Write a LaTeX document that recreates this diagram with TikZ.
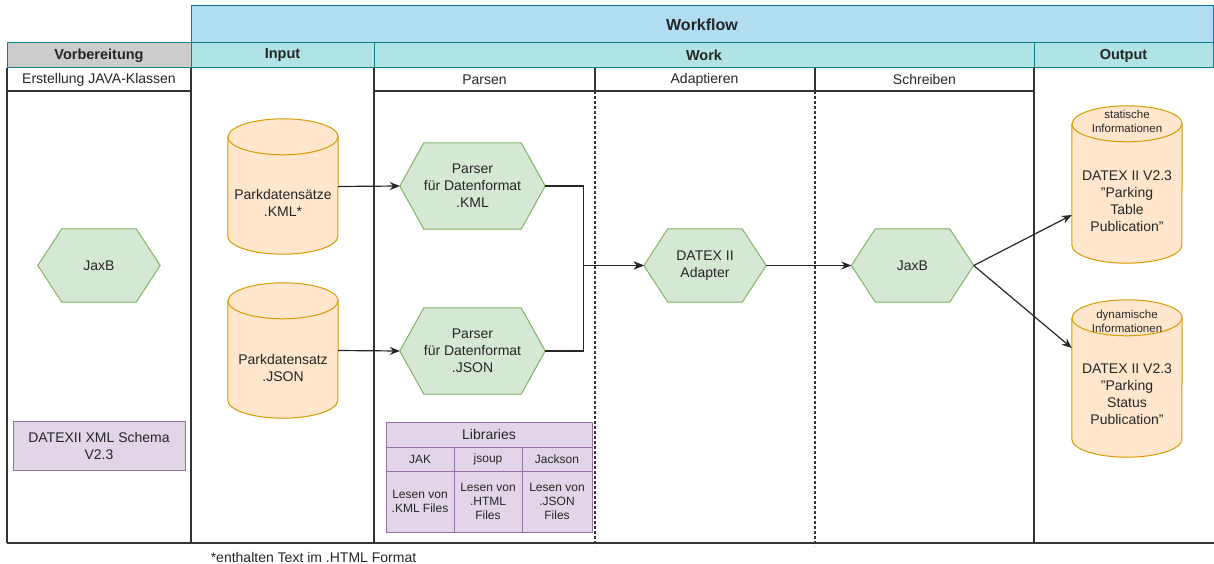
\documentclass[tikz,border=0pt]{standalone}
\usepackage{fontspec}
\setmainfont{Liberation Sans}
\usetikzlibrary{arrows.meta,calc,backgrounds}
\definecolor{hexf}{HTML}{D5E8D4}
\definecolor{hexd}{HTML}{82B366}
\definecolor{cylf}{HTML}{FFE6CC}
\definecolor{cyld}{HTML}{D79B00}
\definecolor{purf}{HTML}{E1D5E7}
\definecolor{purd}{HTML}{9673A6}
\definecolor{wff}{HTML}{B1DDF0}
\definecolor{wfd}{HTML}{10739E}
\definecolor{tealf}{HTML}{B0E3E6}
\definecolor{teald}{HTML}{0E8088}
\definecolor{grayf}{HTML}{CCCCCC}
\definecolor{textc}{HTML}{262626}
\definecolor{lanec}{HTML}{333333}
\newcommand\hexbg[1]{%
  \begin{scope}[on background layer]
  \filldraw[fill=hexf,draw=hexd,line width=1pt] ([xshift=24pt]#1.north west) -- ([xshift=-24pt]#1.north east) -- (#1.east) -- ([xshift=-24pt]#1.south east) -- ([xshift=24pt]#1.south west) -- (#1.west) -- cycle;
  \end{scope}}
\newcommand\cylbg[1]{%
  \begin{scope}[on background layer]
  \filldraw[fill=cylf,draw=cyld,line width=1pt] ([yshift=-18pt]#1.north west) -- ([yshift=18pt]#1.south west) arc[start angle=180,end angle=360,x radius=55pt,y radius=18pt] -- ([yshift=-18pt]#1.north east) arc[start angle=0,end angle=180,x radius=55pt,y radius=18pt] -- cycle;
  \draw[cyld,line width=1pt] ([yshift=-18pt]#1.north west) arc[start angle=180,end angle=360,x radius=55pt,y radius=18pt];
  \end{scope}}
\newcommand\qq{\symbol{34}}
\tikzset{
  txt/.style={font=\fontsize{14}{17}\selectfont, text=textc, align=center, inner sep=0pt},
  small/.style={font=\fontsize{12}{14.3}\selectfont, text=textc, align=center, inner sep=0pt},
  tiny/.style={font=\fontsize{11.5}{14.5}\selectfont, text=textc, align=center, inner sep=0pt},
  boxn/.style={shape=rectangle, inner sep=0pt, align=center},
  hexn/.style={boxn, txt},
  hdrwf/.style={boxn, draw=wfd, fill=wff, line width=1pt, font=\fontsize{16}{19}\selectfont\bfseries, text=textc},
  hdr/.style={boxn, draw=teald, fill=tealf, line width=1pt, font=\fontsize{14.5}{17}\selectfont\bfseries, text=textc},
  hdrg/.style={hdr, fill=grayf},
  purbox/.style={boxn, draw=purd, fill=purf, line width=1pt},
  lane/.style={draw=lanec, line width=1.3pt},
  dlane/.style={draw=lanec, line width=1.3pt, dash pattern=on 3pt off 2pt},
  arr/.style={draw=black!85, line width=1.2pt, -{Stealth[length=10pt,width=8pt]}},
}
\begin{document}
\begin{tikzpicture}[x=1pt,y=-1pt]
\useasboundingbox (0,0) rectangle (1214,564);
\begin{scope}[on background layer]
\fill[white] (0,0) rectangle (1214,564);
\end{scope}
% headers
\node[hdrwf, minimum width=1022pt, minimum height=37pt] (wf) at (702,24.5) {Workflow};
\node[hdrg, minimum width=184pt, minimum height=25pt] (vorb) at (99,55.5) {Vorbereitung};
\node[hdr, minimum width=183pt, minimum height=25pt] (inp) at (282.5,55.5) {Input};
\node[hdr, minimum width=660pt, minimum height=25pt] (work) at (704,55.5) {Work};
\node[hdr, minimum width=179pt, minimum height=25pt] (outp) at (1123.5,55.5) {Output};
% sub headers
\node[txt] (erst) at (99,79.5) {Erstellung JAVA-Klassen};
\node[txt] (pars) at (484.5,79.5) {Parsen};
\node[txt] (adap) at (704.5,79.5) {Adaptieren};
\node[txt] (schr) at (924.5,79.5) {Schreiben};
% lanes
\coordinate (l0t) at (7,68);   \coordinate (l0b) at (7,543);
\coordinate (l1t) at (191,68); \coordinate (l1b) at (191,543);
\coordinate (l2t) at (374,68); \coordinate (l2b) at (374,543);
\coordinate (l3t) at (1034,68);\coordinate (l3b) at (1034,543);
\coordinate (d1t) at (595,68); \coordinate (d1m) at (595,91); \coordinate (d1b) at (595,546);
\coordinate (d2t) at (815,68); \coordinate (d2m) at (815,91); \coordinate (d2b) at (815,546);
\coordinate (bl) at (7,543); \coordinate (br) at (1214,543);
\coordinate (h1a) at (7,91); \coordinate (h1b) at (191,91);
\coordinate (h2a) at (374,91); \coordinate (h2b) at (1034,91);
\draw[lane] (l0t) -- (l0b);
\draw[lane] (l1t) -- (l1b);
\draw[lane] (l2t) -- (l2b);
\draw[lane] (l3t) -- (l3b);
\draw[lane] (bl) -- (br);
\draw[lane] (h1a) -- (h1b);
\draw[lane] (h2a) -- (h2b);
\draw[lane] (d1t) -- (d1m);
\draw[lane] (d2t) -- (d2m);
\draw[dlane] (d1m) -- (d1b);
\draw[dlane] (d2m) -- (d2b);
% hexagons
\node[hexn, minimum width=122pt, minimum height=73pt] (jaxbL) at (99,265.5) {JaxB};
\node[hexn, minimum width=145pt, minimum height=86pt] (parserK) at (472.5,186) {Parser\\für Datenformat\\.KML};
\node[hexn, minimum width=145pt, minimum height=86pt] (parserJ) at (472.5,351) {Parser\\für Datenformat\\.JSON};
\node[hexn, minimum width=122pt, minimum height=73pt] (adapter) at (705,265.5) {DATEX II\\Adapter};
\node[hexn, minimum width=122pt, minimum height=73pt] (jaxbR) at (912.5,265.5) {JaxB};
\hexbg{jaxbL}\hexbg{parserK}\hexbg{parserJ}\hexbg{adapter}\hexbg{jaxbR}
% cylinders
\node[boxn, minimum width=110pt, minimum height=135pt] (cylK) at (283,186.5) {};
\node[boxn, minimum width=110pt, minimum height=135pt] (cylJ) at (283,350.5) {};
\node[boxn, minimum width=110pt, minimum height=157pt] (outS) at (1127,184.5) {};
\node[boxn, minimum width=110pt, minimum height=157pt] (outD) at (1127,378.5) {};
\cylbg{cylK}\cylbg{cylJ}\cylbg{outS}\cylbg{outD}
\node[txt] (cylKt) at (283,202.5) {Parkdatensätze\\.KML*};
\node[txt] (cylJt) at (283,367.5) {Parkdatensatz\\.JSON};
\node[tiny] (outSl) at (1127,121.5) {statische\\Informationen};
\node[txt] (outSt) at (1127,201) {DATEX II V2.3\\\qq Parking\\Table\\Publication\qq};
\node[tiny] (outDl) at (1127,321.5) {dynamische\\Informationen};
\node[txt] (outDt) at (1127,394.5) {DATEX II V2.3\\\qq Parking\\Status\\Publication\qq};
% purple boxes
\node[purbox, txt, minimum width=172pt, minimum height=49pt] (schema) at (99,445.5) {DATEXII XML Schema\\V2.3};
\node[purbox, txt, minimum width=206pt, minimum height=25pt] (libH) at (489,434.5) {Libraries};
\node[purbox, small, minimum width=68pt, minimum height=24pt] (c1) at (420,459) {JAK};
\node[purbox, small, minimum width=68pt, minimum height=24pt] (c2) at (488,459) {jsoup};
\node[purbox, small, minimum width=70pt, minimum height=24pt] (c3) at (557,459) {Jackson};
\node[purbox, small, minimum width=68pt, minimum height=61pt] (d1) at (420,501.5) {Lesen von\\.KML Files};
\node[purbox, small, minimum width=68pt, minimum height=61pt] (d2) at (488,501.5) {Lesen von\\.HTML\\Files};
\node[purbox, small, minimum width=70pt, minimum height=61pt] (d3) at (557,501.5) {Lesen von\\.JSON\\Files};
% footnote
\node[txt] (foot) at (313.5,557) {*enthalten Text im .HTML Format};
% connectors
\draw[arr] (cylK.east) -- (parserK.west);
\draw[arr] (cylJ.east) -- (parserJ.west);
\draw[arr] (parserK.east) -- ++(38,0) |- (adapter.west);
\draw[arr] (parserJ.east) -- ++(38,0) |- (adapter.west);
\draw[arr] (adapter.east) -- (jaxbR.west);
\draw[arr] (jaxbR.east) -- ([yshift=-30.5pt]outS.west);
\draw[arr] (jaxbR.east) -- ([yshift=30.5pt]outD.west);
\end{tikzpicture}
\end{document}
